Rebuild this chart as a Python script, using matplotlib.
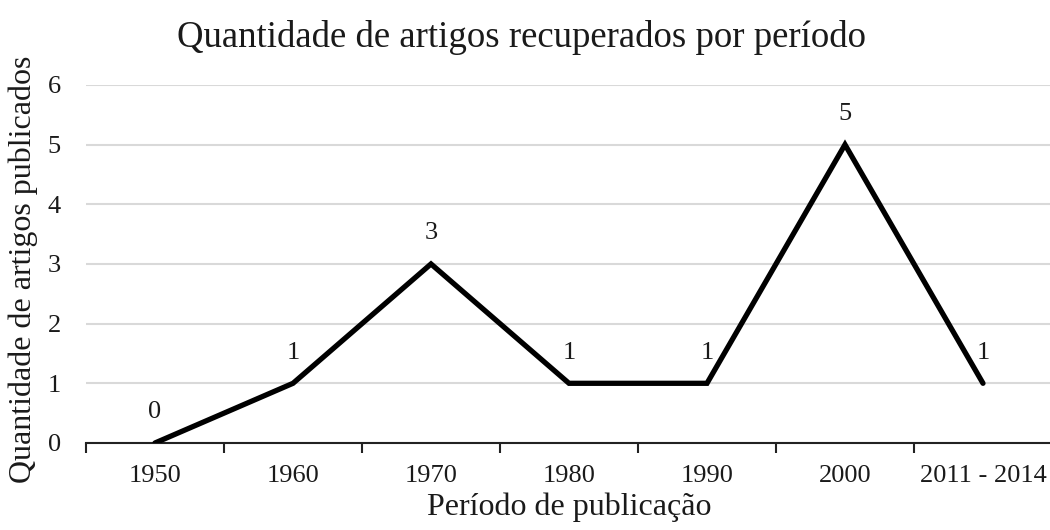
import matplotlib
matplotlib.use("Agg")
from matplotlib import pyplot as plt

# Data
periodos = ["1950", "1960", "1970", "1980", "1990", "2000", "2011 - 2014"]
artigos = [0, 1, 3, 1, 1, 5, 1]

plt.rcParams['font.family'] = ['Liberation Serif', 'DejaVu Serif']

fig = plt.figure(figsize=(10.5, 5.3), dpi=100)
ax = fig.add_axes([0.0819, 0.1642, 0.92, 0.6755])

x = list(range(len(periodos)))
ax.plot(x, artigos, color='black', linewidth=3.8, solid_capstyle='round',
        solid_joinstyle='miter', zorder=3)

# Value labels above each point
for xi, v in zip(x, artigos):
    ax.annotate(str(v), (xi, v), xytext=(0, 22), textcoords='offset points',
                ha='center', va='center', fontsize=19, color='#1a1a1a')

ax.set_xlim(-0.5, len(periodos) - 0.5)
ax.set_ylim(0, 6)
ax.set_yticks(range(0, 7))
ax.yaxis.grid(True, color='#d9d9d9', linewidth=1.5)
ax.set_axisbelow(True)

# Category labels centred, tick marks between categories
ax.set_xticks(x)
ax.set_xticklabels(periodos, fontsize=19, color='#1a1a1a')
ax.set_xticks([i - 0.5 for i in range(len(periodos) + 1)], minor=True)
ax.tick_params(axis='x', which='major', length=0, pad=16)
ax.tick_params(axis='x', which='minor', length=7, width=1.5, direction='out',
               color='#222222')
ax.tick_params(axis='y', length=0, labelsize=19, labelcolor='#1a1a1a', pad=18)

for s in ['top', 'right', 'left']:
    ax.spines[s].set_visible(False)
ax.spines['bottom'].set_color('#222222')
ax.spines['bottom'].set_linewidth(1.5)

ax.set_title("Quantidade de artigos recuperados por período", fontsize=26.5,
             color='#1a1a1a', pad=27, x=0.451)
ax.set_xlabel("Período de publicação", fontsize=23, color='#1a1a1a', labelpad=4)
ax.set_ylabel("Quantidade de artigos publicados", fontsize=23, color='#1a1a1a')
ax.yaxis.set_label_coords(-0.05, 0.485)

fig.savefig("out.png", dpi=100)
